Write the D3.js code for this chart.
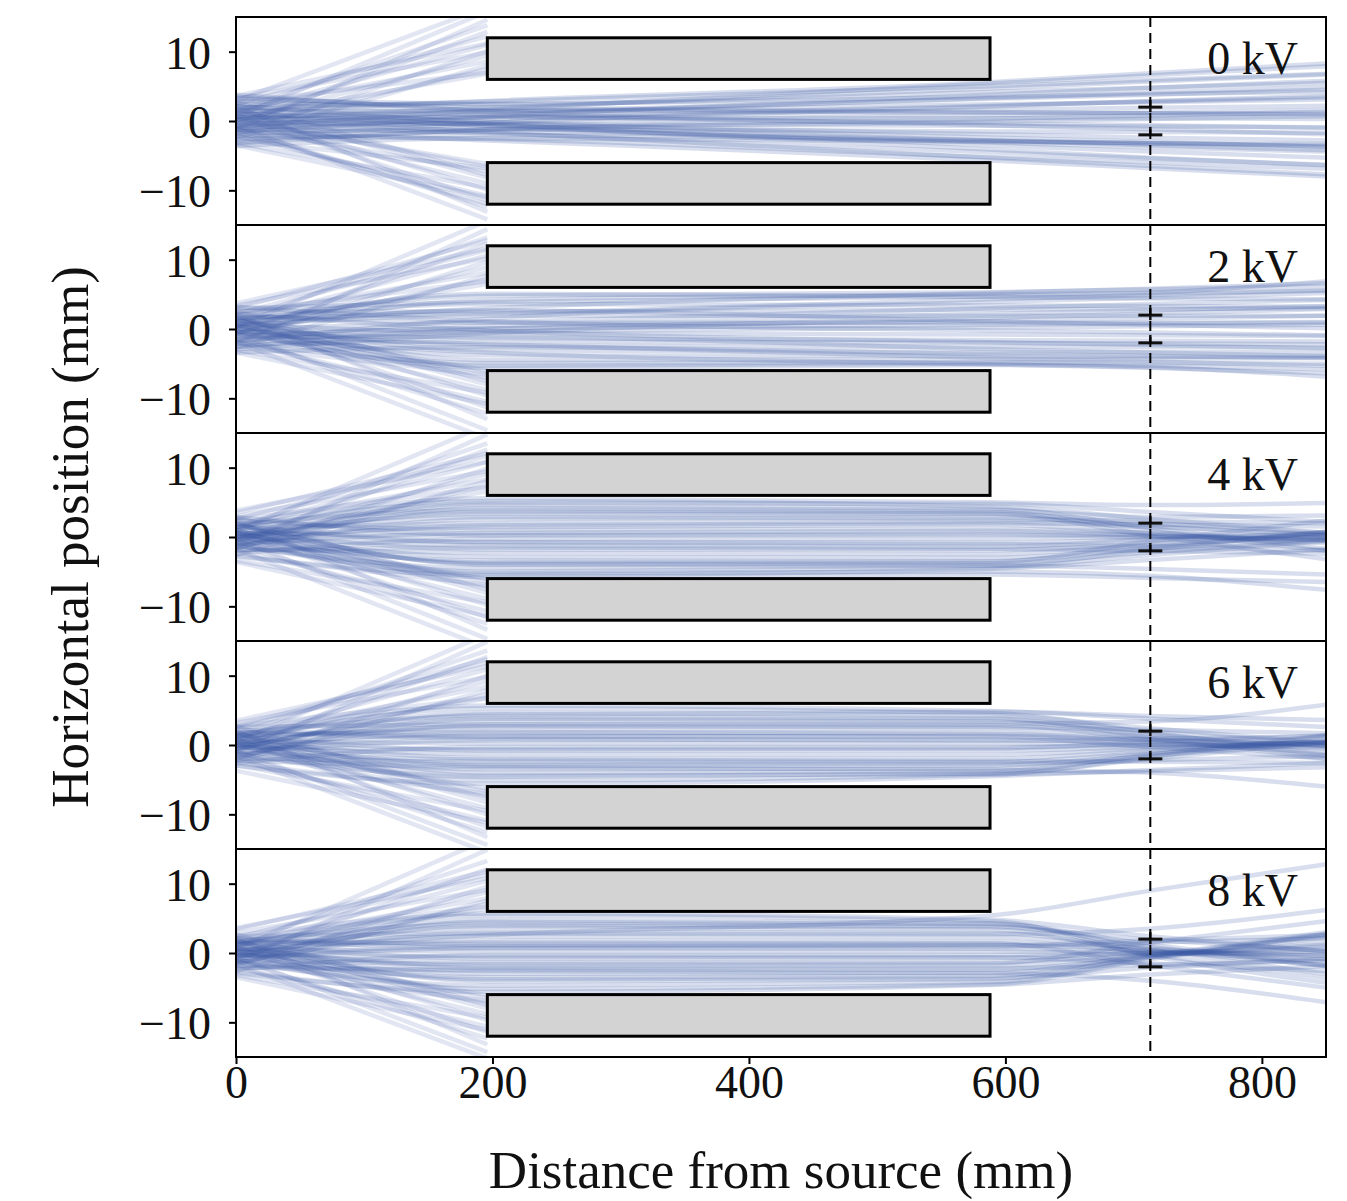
<!DOCTYPE html>
<html>
<head>
<meta charset="utf-8">
<script src="https://cdn.jsdelivr.net/npm/d3@7"></script>
<style>
  body { margin: 0; background: #fff; }
  text { font-family: "Liberation Serif", "DejaVu Serif", serif; fill: #111; }
</style>
</head>
<body>
<svg id="canvas" width="1347" height="1201"></svg>
<script>
// panel names, one per lens voltage
const panelLabels = ["0 kV", "2 kV", "4 kV", "6 kV", "8 kV"];

// x positions (mm) where every ray is sampled
const stationX = [0, 196, 588, 713, 850];

// electrodes, screen and marker
const electrodeX = [196, 588];
const electrodeY = [[6, 12], [-12, -6]];
const screenX = 713;
const markerY = [-2, 2];

const xTicks = [0, 200, 400, 600, 800];
const yTicks = [-10, 0, 10];

// rays that get through the lens: y at each station (mm)
const pass0 = [
  [1.3, 2.9, 5.6, 6.9, 8.3], [-0.8, 1.6, 5.4, 6.6, 7.9], [1.9, 2.8, 5.0, 5.9, 6.8],
  [0.3, 1.9, 4.7, 5.7, 6.7], [-1.6, 0.6, 3.8, 4.8, 5.8], [2.4, 2.4, 4.2, 4.8, 5.5],
  [0.6, 1.3, 3.2, 3.8, 4.5], [-0.5, 0.9, 3.3, 4.1, 4.9], [3.2, 2.5, 3.5, 3.9, 4.2],
  [1.4, 1.4, 2.4, 2.7, 3.1], [-2.4, -0.3, 2.1, 2.9, 3.6], [0.2, 0.6, 1.6, 1.9, 2.2],
  [2.9, 1.6, 1.2, 1.1, 1.0], [-1.1, -0.2, 0.9, 1.2, 1.6], [1.0, 0.5, 0.4, 0.4, 0.3],
  [-3.2, -1.2, 0.3, 0.8, 1.3], [2.1, 0.8, -0.3, -0.6, -1.0], [-0.3, -0.4, -0.7, -0.8, -0.9],
  [3.8, 1.4, -0.6, -1.2, -1.9], [-1.8, -1.2, -1.5, -1.6, -1.7], [0.5, -0.4, -1.9, -2.4, -2.8],
  [-1.3, -1.5, -2.8, -3.2, -3.7], [1.6, -0.1, -2.4, -3.0, -3.7], [-2.6, -2.0, -2.9, -3.2, -3.5],
  [0.0, -1.0, -3.1, -3.8, -4.4], [-3.6, -2.5, -3.0, -3.2, -3.3], [1.1, -0.7, -3.5, -4.4, -5.3],
  [-0.6, -1.8, -4.5, -5.4, -6.3], [2.2, -0.4, -4.1, -5.3, -6.4], [-2.1, -2.6, -5.2, -6.0, -6.9],
  [0.3, -1.6, -5.3, -6.5, -7.7], [-1.4, -2.8, -5.7, -6.8, -8.0], [3.5, 1.9, 1.3, 1.1, 0.9],
  [-1.0, 0.3, 2.2, 2.8, 3.4], [0.8, -0.6, -2.8, -3.5, -4.2], [-3.0, -1.3, -0.1, 0.3, 0.7]
];
const pass2 = [
  [1.0, 3.0, 5.2, 5.8, 6.6], [-0.6, 4.2, 5.0, 5.2, 5.5], [1.6, 2.2, 4.3, 4.9, 5.6],
  [0.3, 5.1, 4.6, 4.4, 4.3], [-1.8, 1.5, 3.9, 4.5, 5.2], [1.4, 3.6, 3.4, 3.3, 3.2],
  [0.0, 1.0, 3.0, 3.6, 4.2], [2.6, 2.5, 2.8, 2.9, 3.0], [-1.0, 0.4, 2.2, 2.7, 3.3],
  [0.6, 1.9, 1.9, 1.9, 1.9], [-2.9, -0.6, 1.6, 2.2, 2.9], [1.9, 0.9, 0.9, 0.9, 1.0],
  [0.2, 2.7, 1.1, 0.6, 0.1], [-0.5, 0.1, 0.6, 0.8, 0.9], [3.2, 1.1, -0.2, -0.5, -0.9],
  [-1.6, -0.4, 0.2, 0.4, 0.6], [0.8, -0.6, -0.8, -0.9, -1.0], [-0.3, -1.3, -1.6, -1.7, -1.8],
  [2.2, -0.2, -1.9, -2.3, -2.8], [-2.2, -1.8, -2.0, -2.1, -2.2], [0.5, -2.4, -2.6, -2.6, -2.7],
  [-1.1, -1.1, -2.9, -3.4, -3.9], [1.3, -3.1, -3.3, -3.3, -3.4], [-3.4, -2.6, -3.6, -3.9, -4.2],
  [0.0, -3.8, -3.9, -4.0, -4.0], [-0.8, -2.2, -4.2, -4.7, -5.3], [1.8, -4.5, -4.4, -4.3, -4.2],
  [-1.9, -4.9, -4.8, -4.9, -5.0], [0.6, -5.3, -5.0, -5.3, -5.8], [-1.4, -3.4, -5.1, -5.6, -6.4],
  [1.1, 4.8, 5.3, 5.7, 6.2], [-0.2, -5.6, -5.2, -5.5, -6.9], [3.0, 3.9, 4.7, 5.2, 6.9],
  [-2.6, 0.0, 1.2, 1.5, 1.9]
];
const pass4 = [
  [1.0, 5.2, 4.4, 2.6, 0.6], [-0.5, 4.6, 4.1, 1.3, -1.7], [1.8, 3.9, 3.6, 0.9, -2.0],
  [0.3, 3.3, 3.3, 2.0, 0.6], [-1.4, 2.6, 2.9, 1.6, 0.2], [1.3, 2.0, 2.3, 1.4, 0.4],
  [0.0, 1.4, 1.8, 0.5, -0.9], [2.4, 1.0, 1.2, 0.6, -0.1], [-1.0, 0.6, 0.9, 0.2, -0.5],
  [0.6, 0.2, 0.3, 0.0, -0.4], [-2.4, -0.3, -0.2, 0.0, 0.3], [1.6, -0.7, -0.8, -0.4, 0.0],
  [-0.2, -1.2, -1.4, -0.4, 0.6], [0.8, -1.8, -1.9, -1.0, 0.0], [-1.8, -2.3, -2.5, -1.1, 0.4],
  [0.5, -2.9, -3.0, -1.7, -0.3], [-0.6, -3.4, -3.5, -1.5, 0.7], [1.9, -3.9, -3.8, -2.2, -0.5],
  [-1.3, -4.5, -4.2, -1.8, 0.8], [0.2, -5.0, -4.4, -2.6, -0.6], [-2.7, -5.5, -4.6, -3.3, -1.8],
  [1.4, 5.6, 5.0, 4.6, 4.9], [-0.3, 4.9, 4.8, 3.6, 2.2], [1.0, -5.8, -5.4, -5.9, -6.5],
  [-1.1, -5.2, -5.0, -5.6, -7.6], [2.1, -4.0, -4.1, -4.6, -5.4], [0.0, 2.9, 2.6, 2.3, 2.0],
  [-1.9, -1.5, -1.7, -2.0, -2.4], [1.1, -0.8, -1.0, -1.3, -1.9], [-0.8, 1.7, 2.0, 1.8, 1.5],
  [2.9, 0.3, 0.5, 0.2, -0.3], [-0.3, 3.6, 3.4, 0.2, -3.2], [0.6, -3.7, -3.6, -0.6, 2.4],
  [-1.6, 4.2, 3.9, 2.9, 3.1]
];
const pass6 = [
  [0.8, 5.3, 4.6, 1.8, -1.4], [-0.6, 4.7, 4.3, 2.4, 0.3], [1.6, 4.1, 3.9, 1.1, -2.0],
  [0.2, 3.5, 3.4, 1.5, -0.6], [-1.6, 2.9, 2.9, 0.8, -1.5], [1.1, 2.3, 2.4, 1.2, -0.1],
  [0.0, 1.7, 1.8, 0.4, -1.1], [2.2, 1.2, 1.3, 0.7, 0.0], [-1.0, 0.7, 0.8, 0.2, -0.4],
  [0.5, 0.2, 0.2, 0.0, -0.2], [-2.6, -0.3, -0.3, 0.0, 0.3], [1.4, -0.8, -0.8, -0.3, 0.2],
  [-0.3, -1.3, -1.4, -0.5, 0.5], [1.0, -1.9, -2.0, -0.8, 0.6], [-1.9, -2.4, -2.5, -1.1, 0.5],
  [0.3, -3.0, -3.0, -1.3, 0.7], [-0.8, -3.5, -3.4, -1.6, 0.4], [1.8, -4.0, -3.8, -1.4, 1.4],
  [-1.3, -4.6, -4.1, -2.0, 0.4], [0.0, -5.1, -4.3, -1.7, 1.3], [-3.0, -5.6, -4.5, -3.6, -2.6],
  [1.3, 5.7, 4.9, 3.8, 2.6], [-0.5, 4.4, 4.8, 4.2, 3.6], [0.6, -4.4, -4.2, -3.8, -3.2],
  [2.6, 3.0, 3.1, 3.4, 5.8], [-2.2, -3.2, -3.6, -4.0, -6.0], [1.4, 1.9, 1.6, 0.8, -0.1],
  [-1.1, -2.1, -2.3, -2.4, -2.6], [0.3, 2.7, 2.6, 2.2, 1.7], [-0.2, -0.6, -0.5, 0.4, 1.4],
  [1.9, 0.9, 0.6, 0.9, 1.2], [-1.8, 3.8, 3.7, 1.9, 0.2], [0.8, -2.8, -2.7, -2.2, -1.6],
  [-0.6, 1.3, 1.2, -0.3, -2.0]
];
const pass8 = [
  [1.0, 5.4, 4.6, -0.4, -4.3], [-0.5, 4.8, 4.3, 0.5, -3.0], [1.6, 4.2, 3.9, 0.9, -1.9],
  [0.2, 3.6, 3.4, -0.2, -3.6], [-1.4, 3.0, 2.9, 0.4, -1.8], [1.3, 2.4, 2.3, 0.6, -0.9],
  [0.0, 1.8, 1.7, 0.2, -1.2], [2.1, 1.2, 1.2, 0.4, -0.4], [-0.8, 0.7, 0.6, 0.1, -0.4],
  [0.5, 0.2, 0.2, 0.0, -0.1], [-2.4, -0.3, -0.3, -0.1, 0.2], [1.4, -0.8, -0.7, 0.0, 0.6],
  [-0.3, -1.3, -1.3, -0.2, 0.9], [0.8, -1.9, -1.8, -0.3, 1.2], [-1.8, -2.4, -2.4, -0.5, 1.5],
  [0.3, -3.0, -2.9, -0.3, 2.4], [-1.0, -3.5, -3.3, -0.6, 2.2], [1.8, -4.1, -3.8, -0.4, 3.0],
  [-1.3, -4.7, -4.2, -0.7, 2.8], [0.0, -5.2, -4.5, -0.9, 2.7], [-2.9, -5.6, -4.6, -3.1, -1.9],
  [1.1, 5.7, 4.8, 2.4, 0.2], [-0.6, 3.9, 3.7, 1.9, 0.3], [0.6, -3.8, -3.6, -2.1, -0.8],
  [2.4, 2.8, 2.7, 3.5, 6.2], [-2.1, -2.6, -2.9, -4.0, -7.1], [1.4, 1.5, 1.4, -1.8, -5.0],
  [-1.1, -1.6, -1.5, 1.5, 4.6], [0.5, 2.6, 5.4, 9.0, 12.8], [-0.2, -0.5, -0.6, -1.5, -2.6],
  [1.9, 0.8, 0.9, 1.5, 2.1], [-1.6, 4.5, 4.2, 1.2, -1.8], [0.8, -2.2, -2.2, -1.7, -1.1],
  [-0.5, 1.0, 1.1, 1.8, 2.6]
];

// rays stopped at the electrode entrance: y at x=0 and x=196 (mm)
const block0 = [
  [0.5, 6.8], [-0.8, 7.5], [1.6, 8.6], [0.0, 9.4], [-1.9, 10.1], [1.1, 11.0], [2.4, 12.2],
  [-0.5, 12.9], [1.4, 13.8], [-1.3, 14.6], [0.6, 15.8], [2.9, 16.5], [-2.4, 8.0], [3.2, 9.9],
  [0.3, -6.6], [-1.0, -7.3], [1.8, -8.2], [-0.2, -9.0], [1.3, -9.9], [-2.1, -10.8], [0.8, -11.5],
  [-1.1, -12.4], [2.2, -13.1], [-0.6, -14.2], [2.7, -7.8], [-3.2, -9.6], [0.0, -6.2], [-1.6, -12.0],
  [3.6, 11.2], [2.6, 7.0], [-3.5, -11.0], [-2.7, -6.8]
];
const block2 = [
  [0.6, 6.5], [-0.5, 7.2], [1.9, 8.1], [0.2, 8.9], [-1.6, 9.7], [1.0, 10.6], [2.2, 11.4],
  [-0.8, 12.3], [1.3, 13.2], [-2.2, 14.4], [0.3, 15.6], [3.4, 10.2], [-2.7, 7.7], [3.0, 12.8],
  [0.5, -6.4], [-0.6, -7.1], [1.6, -8.0], [-0.3, -8.8], [1.4, -9.6], [-1.8, -10.5], [1.0, -11.3],
  [-1.3, -12.2], [2.1, -13.0], [-0.5, -14.6], [2.6, -7.5], [-3.0, -9.2], [0.2, -6.0], [-1.9, -15.8],
  [3.7, 11.6], [2.4, 6.9], [-3.4, -10.8], [-2.5, -6.6]
];
const block4 = [
  [0.3, 6.6], [-1.0, 7.4], [1.8, 8.3], [0.0, 9.1], [-1.8, 9.9], [1.3, 10.8], [2.6, 11.7],
  [-0.6, 12.6], [1.4, 13.5], [-1.4, 14.8], [0.8, 16.2], [3.0, 9.5], [-2.6, 8.1], [3.5, 12.1],
  [0.6, -6.5], [-0.8, -7.2], [1.9, -8.1], [-0.2, -8.9], [1.1, -9.8], [-1.9, -10.7], [0.6, -11.6],
  [-1.0, -12.5], [2.4, -13.4], [-0.3, -14.7], [2.9, -7.6], [-3.4, -9.4], [0.2, -6.1], [-1.8, -16.0],
  [3.8, 10.9], [2.5, 7.2], [-3.6, -11.4], [-2.8, -6.9]
];
const block6 = [
  [0.8, 6.7], [-0.6, 7.3], [1.4, 8.4], [0.2, 9.2], [-2.1, 10.0], [1.0, 10.9], [2.4, 11.9],
  [-0.3, 12.7], [1.6, 13.6], [-1.1, 14.9], [0.5, 16.0], [3.2, 9.8], [-2.4, 7.9], [2.7, 12.4],
  [0.3, -6.7], [-1.1, -7.4], [1.8, -8.3], [0.0, -9.1], [1.3, -10.0], [-2.2, -10.9], [0.8, -11.8],
  [-1.4, -12.6], [2.1, -13.3], [-0.8, -14.4], [2.7, -7.7], [-2.9, -9.5], [0.0, -6.3], [-1.6, -15.5],
  [3.5, 11.4], [2.7, 6.8], [-3.7, -11.2], [-2.6, -7.0]
];
const block8 = [
  [0.5, 6.4], [-0.8, 7.1], [1.6, 7.9], [0.0, 8.8], [-1.9, 9.6], [1.1, 10.4], [2.2, 11.3],
  [-0.5, 12.1], [1.4, 13.3], [-1.3, 14.9], [0.6, 16.4], [2.9, 9.1], [-2.6, 7.6], [3.4, 11.8],
  [0.3, -6.5], [-1.0, -7.2], [1.8, -8.0], [-0.2, -8.8], [1.3, -9.7], [-2.1, -10.6], [0.8, -11.4],
  [-1.1, -12.3], [2.2, -13.2], [-0.6, -14.3], [2.7, -7.5], [-3.2, -9.3], [0.0, -6.1], [-1.6, -15.2],
  [3.6, 10.8], [2.5, 6.7], [-3.5, -11.1], [-2.7, -6.9]
];

const passRays = [pass0, pass2, pass4, pass6, pass8];
const blockRays = [block0, block2, block4, block6, block8];

// layout
const plotLeft = 236, plotRight = 1326, plotTop = 17, panelH = 208;
const svg = d3.select("#canvas");

const x = d3.scaleLinear().domain([0, 850]).range([plotLeft, plotRight]);

const rayColor = "#3a5aa6";

panelLabels.forEach((label, p) => {
  const y0 = plotTop + p * panelH;
  const y = d3.scaleLinear().domain([-15, 15]).range([y0 + panelH, y0]);
  const g = svg.append("g");

  g.append("clipPath").attr("id", "clip" + p)
    .append("rect")
    .attr("x", plotLeft).attr("y", y0)
    .attr("width", plotRight - plotLeft).attr("height", panelH);

  const line = d3.line()
    .x((d, i) => x(stationX[i]))
    .y(d => y(d))
    .curve(d3.curveMonotoneX);

  const rays = g.append("g").attr("clip-path", `url(#clip${p})`);
  rays.selectAll("path.block")
    .data(blockRays[p])
    .enter().append("path")
    .attr("class", "block")
    .attr("d", line)
    .attr("fill", "none")
    .attr("stroke", rayColor)
    .attr("stroke-opacity", 0.15)
    .attr("stroke-width", 4.5);
  rays.selectAll("path.pass")
    .data(passRays[p])
    .enter().append("path")
    .attr("class", "pass")
    .attr("d", line)
    .attr("fill", "none")
    .attr("stroke", rayColor)
    .attr("stroke-opacity", 0.2)
    .attr("stroke-width", 4.5);

  // electrodes
  g.selectAll("rect.electrode")
    .data(electrodeY)
    .enter().append("rect")
    .attr("class", "electrode")
    .attr("x", x(electrodeX[0]))
    .attr("width", x(electrodeX[1]) - x(electrodeX[0]))
    .attr("y", d => y(d[1]))
    .attr("height", d => y(d[0]) - y(d[1]))
    .attr("fill", "#d3d3d3")
    .attr("stroke", "#000")
    .attr("stroke-width", 3);

  // marker caps at the screen
  g.selectAll("line.cap")
    .data(markerY)
    .enter().append("line")
    .attr("class", "cap")
    .attr("x1", x(screenX) - 12).attr("x2", x(screenX) + 12)
    .attr("y1", d => y(d)).attr("y2", d => y(d))
    .attr("stroke", "#111").attr("stroke-width", 3);
  g.append("line")
    .attr("x1", x(screenX)).attr("x2", x(screenX))
    .attr("y1", y(markerY[1]) - 7).attr("y2", y(markerY[1]) + 5)
    .attr("stroke", "#111").attr("stroke-width", 2.5);
  g.append("line")
    .attr("x1", x(screenX)).attr("x2", x(screenX))
    .attr("y1", y(markerY[0]) - 8).attr("y2", y(markerY[0]))
    .attr("stroke", "#111").attr("stroke-width", 2.5);

  // y axis
  const yAxis = g.append("g")
    .attr("transform", `translate(${plotLeft},0)`)
    .call(d3.axisLeft(y).tickValues(yTicks).tickSize(7).tickPadding(18)
      .tickFormat(d => d < 0 ? "\u2212" + Math.abs(d) : d));
  yAxis.select(".domain").remove();
  yAxis.selectAll(".tick line").attr("stroke", "#000").attr("stroke-width", 2);
  yAxis.selectAll(".tick text")
    .style("font-family", '"Liberation Serif", serif')
    .style("font-size", "46px")
    .attr("dy", "0.36em")
    .attr("fill", "#111");

  // frame
  g.append("rect")
    .attr("x", plotLeft).attr("y", y0)
    .attr("width", plotRight - plotLeft).attr("height", panelH)
    .attr("fill", "none")
    .attr("stroke", "#000").attr("stroke-width", 2);

  g.append("text")
    .attr("x", 1298).attr("y", y0 + 57)
    .attr("text-anchor", "end")
    .style("font-size", "46px")
    .text(label);
});

// screen position, dashed through all panels
svg.append("line")
  .attr("x1", x(screenX)).attr("x2", x(screenX))
  .attr("y1", plotTop).attr("y2", plotTop + 5 * panelH)
  .attr("stroke", "#000").attr("stroke-width", 2)
  .attr("stroke-dasharray", "10,6");

// x axis on the bottom panel
const xAxis = svg.append("g")
  .attr("transform", `translate(0,${plotTop + 5 * panelH})`)
  .call(d3.axisBottom(x).tickValues(xTicks).tickSize(7).tickPadding(6));
xAxis.select(".domain").remove();
xAxis.selectAll(".tick line").attr("stroke", "#000").attr("stroke-width", 2);
xAxis.selectAll(".tick text")
  .style("font-family", '"Liberation Serif", serif')
  .style("font-size", "46px")
  .attr("dy", "0.6em")
  .attr("fill", "#111");

svg.append("text")
  .attr("x", (plotLeft + plotRight) / 2).attr("y", 1188)
  .attr("text-anchor", "middle")
  .style("font-size", "53px")
  .text("Distance from source (mm)");

svg.append("text")
  .attr("transform", `translate(88,${plotTop + 2.5 * panelH}) rotate(-90)`)
  .attr("text-anchor", "middle")
  .style("font-size", "53px")
  .text("Horizontal position (mm)");
</script>
</body>
</html>
